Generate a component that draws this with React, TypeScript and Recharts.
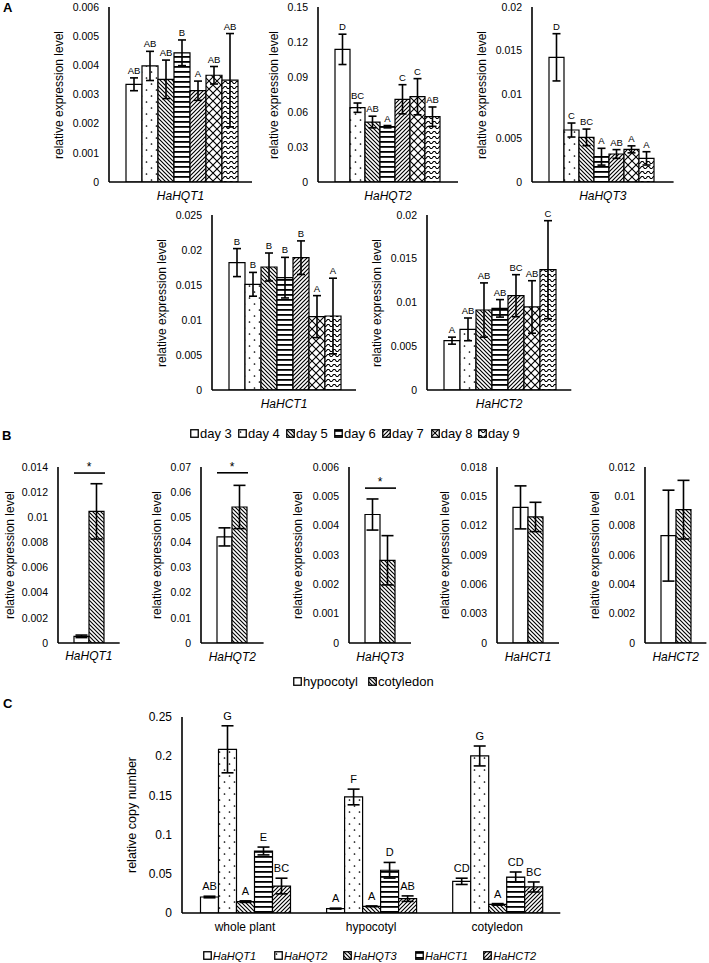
import React from 'react';
import { BarChart, Bar, XAxis, YAxis, ErrorBar, LabelList } from 'recharts';

const FONT = '"Liberation Sans", Arial, Helvetica, sans-serif';

// ---------------- Panel A data ----------------
const dayLabels = ['day 3', 'day 4', 'day 5', 'day 6', 'day 7', 'day 8', 'day 9'];
const dayPatterns = ['pWhite', 'pDots', 'pDiagDown', 'pHoriz', 'pDiagUp', 'pCross', 'pWave'];

const hqt1Mean = [0.00335, 0.00398, 0.00352, 0.00443, 0.00313, 0.00366, 0.00349];
const hqt1Err = [0.00022, 0.0005, 0.00066, 0.00044, 0.00033, 0.0003, 0.0016];
const hqt1Letters = ['AB', 'AB', 'AB', 'B', 'A', 'AB', 'AB'];

const hqt2Mean = [0.1137, 0.0637, 0.0514, 0.0474, 0.0709, 0.0731, 0.056];
const hqt2Err = [0.013, 0.004, 0.005, 0.001, 0.0125, 0.0155, 0.0083];
const hqt2Letters = ['D', 'BC', 'AB', 'A', 'C', 'C', 'AB'];

const hqt3Mean = [0.01425, 0.00594, 0.0051, 0.00289, 0.0032, 0.00373, 0.0027];
const hqt3Err = [0.0027, 0.0008, 0.00095, 0.00096, 0.0005, 0.0004, 0.00076];
const hqt3Letters = ['D', 'C', 'BC', 'A', 'AB', 'A', 'A'];

const hct1Mean = [0.0182, 0.0151, 0.01757, 0.01605, 0.0189, 0.01048, 0.01057];
const hct1Err = [0.002, 0.0017, 0.002, 0.0029, 0.0024, 0.003, 0.0054];
const hct1Letters = ['B', 'B', 'B', 'B', 'B', 'A', 'A'];

const hct2Mean = [0.00564, 0.00693, 0.00914, 0.00933, 0.01078, 0.00949, 0.01375];
const hct2Err = [0.0004, 0.0013, 0.0031, 0.001, 0.0024, 0.003, 0.0056];
const hct2Letters = ['A', 'AB', 'AB', 'AB', 'BC', 'AB', 'C'];

const ticksA1 = [0, 0.001, 0.002, 0.003, 0.004, 0.005, 0.006];
const ticksA2 = [0, 0.03, 0.06, 0.09, 0.12, 0.15];
const ticksA3 = [0, 0.005, 0.01, 0.015, 0.02];
const ticksA4 = [0, 0.005, 0.01, 0.015, 0.02, 0.025];
const ticksA5 = [0, 0.005, 0.01, 0.015, 0.02];

// ---------------- Panel B data ----------------
const tissuesB = ['hypocotyl', 'cotyledon'];
const tissuePatternsB = ['pWhite', 'pDiagDown'];

const bHqt1Mean = [0.00053, 0.01047];
const bHqt1Err = [0.0001, 0.0022];
const bHqt1Sig = 0.01352;
const bHqt2Mean = [0.0422, 0.0541];
const bHqt2Err = [0.0036, 0.0086];
const bHqt2Sig = 0.0677;
const bHqt3Mean = [0.00438, 0.00282];
const bHqt3Err = [0.00053, 0.00084];
const bHqt3Sig = 0.00528;
const bHct1Mean = [0.01387, 0.01289];
const bHct1Err = [0.0022, 0.0015];
const bHct2Mean = [0.00732, 0.00909];
const bHct2Err = [0.0031, 0.002];

const ticksB1 = [0, 0.002, 0.004, 0.006, 0.008, 0.01, 0.012, 0.014];
const ticksB2 = [0, 0.01, 0.02, 0.03, 0.04, 0.05, 0.06, 0.07];
const ticksB3 = [0, 0.001, 0.002, 0.003, 0.004, 0.005, 0.006];
const ticksB4 = [0, 0.003, 0.006, 0.009, 0.012, 0.015, 0.018];
const ticksB5 = [0, 0.002, 0.004, 0.006, 0.008, 0.01, 0.012];

// ---------------- Panel C data ----------------
const tissuesC = ['whole plant', 'hypocotyl', 'cotyledon'];
const genesC = ['HaHQT1', 'HaHQT2', 'HaHQT3', 'HaHCT1', 'HaHCT2'];
const genePatternsC = ['pWhite', 'pDots', 'pDiagDown', 'pHoriz', 'pDiagUp'];

const cHqt1Mean = [0.0204, 0.0056, 0.0404];
const cHqt1Err = [0.001, 0.0006, 0.004];
const cHqt1Letters = ['AB', 'A', 'CD'];
const cHqt2Mean = [0.2088, 0.148, 0.2003];
const cHqt2Err = [0.03, 0.01, 0.0127];
const cHqt2Letters = ['G', 'F', 'G'];
const cHqt3Mean = [0.0145, 0.0085, 0.011];
const cHqt3Err = [0.001, 0.0005, 0.001];
const cHqt3Letters = ['A', 'A', 'A'];
const cHct1Mean = [0.0791, 0.0545, 0.0459];
const cHct1Err = [0.005, 0.01, 0.0064];
const cHct1Letters = ['E', 'D', 'CD'];
const cHct2Mean = [0.0344, 0.0183, 0.0332];
const cHct2Err = [0.01, 0.0035, 0.0064];
const cHct2Letters = ['BC', 'AB', 'BC'];

const ticksC = [0, 0.05, 0.1, 0.15, 0.2, 0.25];

// ---------------- helpers ----------------
type Series = { key: string; errKey: string; letterKey?: string; fill: string };

function oneCategoryRow(name: string, means: number[], errs: number[], letters?: string[], sig?: number) {
  const row: any = { name };
  means.forEach((m, i) => {
    row['v' + i] = m;
    row['e' + i] = errs[i];
    if (letters) row['l' + i] = letters[i];
  });
  if (sig !== undefined) row.sig = sig;
  return row;
}

function makeSeries(patterns: string[], withLetters: boolean): Series[] {
  return patterns.map((p, i) => ({
    key: 'v' + i,
    errKey: 'e' + i,
    letterKey: withLetters ? 'l' + i : undefined,
    fill: p,
  }));
}

const letterRenderer = (data: any[], s: Series, fs: number, lift: number) => (p: any) => {
  const vb = p.viewBox ?? p;
  const idx = p.index ?? 0;
  const d = data[idx];
  if (!d || vb.x === undefined) return null;
  const v = d[s.key];
  const e = d[s.errKey];
  const errPx = v ? (vb.height * e) / v : 0;
  return (
    <text x={vb.x + vb.width / 2} y={vb.y - errPx - lift} textAnchor="middle" fontSize={fs} fill="#000" fontFamily={FONT}>
      {p.value}
    </text>
  );
};

const sigRenderer = (data: any[], s: Series) => (p: any) => {
  const vb = p.viewBox ?? p;
  const idx = p.index ?? 0;
  const d = data[idx];
  if (!d || d.sig === undefined || vb.x === undefined) return null;
  const v = d[s.key];
  const base = vb.y + vb.height;
  const ly = base - (vb.height * d.sig) / v;
  return (
    <g>
      <line x1={vb.x - vb.width} x2={vb.x + vb.width + 1} y1={ly} y2={ly} stroke="#000" strokeWidth={1.6} />
      <text x={vb.x} y={ly - 2} textAnchor="middle" fontSize={12} fill="#000" fontFamily={FONT}>*</text>
    </g>
  );
};

type PanelProps = {
  box: number[];
  data: any[];
  series: Series[];
  max: number;
  ticks: number[];
  gap: number;
  tickFont: number;
  catFont: number;
  catItalic: boolean;
  letterFont?: number;
  letterLift?: number;
  capWidth: number;
  withSig?: boolean;
};

function Panel({ box, data, series, max, ticks, gap, tickFont, catFont, catItalic, letterFont = 9, letterLift = 4, capWidth, withSig }: PanelProps) {
  const [x0, x1, y0, y1] = box;
  const YW = 60;
  const MT = 22;
  const MR = 4;
  const XH = 30;
  const w = x1 - x0 + YW + MR;
  const h = y1 - y0 + MT + XH;
  return (
    <div style={{ position: 'absolute', left: x0 - YW, top: y0 - MT, width: w, height: h }}>
      <BarChart width={w} height={h} data={data} margin={{ top: MT, right: MR, left: 0, bottom: 0 }} barGap={0} barCategoryGap={gap}>
        <XAxis
          dataKey="name"
          height={XH}
          interval={0}
          tickLine={false}
          axisLine={{ stroke: '#000', strokeWidth: 1.6 }}
          tick={{ fill: '#000', fontSize: catFont, fontStyle: catItalic ? 'italic' : 'normal', fontFamily: FONT }}
          tickMargin={3}
        />
        <YAxis
          type="number"
          width={YW}
          domain={[0, max]}
          ticks={ticks}
          interval={0}
          allowDataOverflow
          tickLine={false}
          axisLine={{ stroke: '#000', strokeWidth: 1.6 }}
          tick={{ fill: '#000', fontSize: tickFont, fontFamily: FONT }}
          tickMargin={4}
          tickFormatter={(v: number) => String(v)}
        />
        {series.map((s, i) => (
          <Bar key={s.key} dataKey={s.key} fill={`url(#${s.fill})`} stroke="#000" strokeWidth={1.2} isAnimationActive={false}>
            <ErrorBar dataKey={s.errKey} width={capWidth} stroke="#000" strokeWidth={1.6} direction="y" />
            {s.letterKey ? <LabelList dataKey={s.letterKey} content={letterRenderer(data, s, letterFont, letterLift)} /> : null}
            {withSig && i === series.length - 1 ? <LabelList dataKey="sig" content={sigRenderer(data, s)} /> : null}
          </Bar>
        ))}
      </BarChart>
    </div>
  );
}

function YTitle({ text, cx, cy, fs }: { text: string; cx: number; cy: number; fs: number }) {
  return (
    <div
      style={{
        position: 'absolute',
        left: cx,
        top: cy,
        transform: 'translate(-50%, -50%) rotate(-90deg)',
        whiteSpace: 'nowrap',
        fontSize: fs,
        lineHeight: 1,
        color: '#000',
      }}
    >
      {text}
    </div>
  );
}

function Swatch({ fill }: { fill: string }) {
  return (
    <svg width={9} height={9} style={{ display: 'block' }}>
      <rect x={0.75} y={0.75} width={7.5} height={7.5} fill={`url(#${fill})`} stroke="#000" strokeWidth={1.3} />
    </svg>
  );
}

function LegendRow({ labels, patterns, xs, cy, fs, italic }: { labels: string[]; patterns: string[]; xs: number[]; cy: number; fs: number; italic: boolean }) {
  return (
    <>
      {labels.map((l, i) => (
        <div
          key={l}
          style={{
            position: 'absolute',
            left: xs[i],
            top: cy - 8,
            height: 16,
            display: 'flex',
            alignItems: 'center',
            whiteSpace: 'nowrap',
            fontSize: fs,
            fontStyle: italic ? 'italic' : 'normal',
            color: '#000',
          }}
        >
          <Swatch fill={patterns[i]} />
          <span style={{ marginLeft: 1 }}>{l}</span>
        </div>
      ))}
    </>
  );
}

function PatternDefs() {
  return (
    <svg width={0} height={0} style={{ position: 'absolute', left: 0, top: 0 }}>
      <defs>
        <pattern id="pWhite" width={4} height={4} patternUnits="userSpaceOnUse">
          <rect width={4} height={4} fill="#fff" />
        </pattern>
        <pattern id="pDots" width={10} height={12} patternUnits="userSpaceOnUse">
          <rect width={10} height={12} fill="#fff" />
          <circle cx={2.5} cy={3} r={0.85} fill="#000" />
          <circle cx={7.5} cy={9} r={0.85} fill="#000" />
        </pattern>
        <pattern id="pDiagDown" width={4} height={4} patternUnits="userSpaceOnUse">
          <rect width={4} height={4} fill="#fff" />
          <path d="M-1,-1 L5,5 M3,-1 L5,1 M-1,3 L1,5" stroke="#000" strokeWidth={1.15} />
        </pattern>
        <pattern id="pHoriz" width={4} height={5} patternUnits="userSpaceOnUse">
          <rect width={4} height={5} fill="#fff" />
          <rect y={1} width={4} height={1.8} fill="#000" />
        </pattern>
        <pattern id="pDiagUp" width={4} height={4} patternUnits="userSpaceOnUse">
          <rect width={4} height={4} fill="#fff" />
          <path d="M-1,5 L5,-1 M-1,1 L1,-1 M3,5 L5,3" stroke="#000" strokeWidth={1.15} />
        </pattern>
        <pattern id="pCross" width={8} height={8} patternUnits="userSpaceOnUse">
          <rect width={8} height={8} fill="#fff" />
          <path d="M0,0 L8,8 M8,0 L0,8" stroke="#000" strokeWidth={1.1} />
        </pattern>
        <pattern id="pWave" width={6} height={5} patternUnits="userSpaceOnUse">
          <rect width={6} height={5} fill="#fff" />
          <path d="M0,3.5 L1.5,1.5 L3,1.5 L4.5,3.5 L6,3.5" fill="none" stroke="#000" strokeWidth={1.1} />
        </pattern>
      </defs>
    </svg>
  );
}

// ---------------- chart configs ----------------
const seriesA = makeSeries(dayPatterns, true);
const seriesB = makeSeries(tissuePatternsB, false);
const seriesC = makeSeries(genePatternsC, true);

const panelA = [
  { data: [oneCategoryRow('HaHQT1', hqt1Mean, hqt1Err, hqt1Letters)], max: 0.006, ticks: ticksA1, box: [109, 252, 7, 182], title: [59, 94.5] },
  { data: [oneCategoryRow('HaHQT2', hqt2Mean, hqt2Err, hqt2Letters)], max: 0.15, ticks: ticksA2, box: [318, 458, 7, 182], title: [274, 94.5] },
  { data: [oneCategoryRow('HaHQT3', hqt3Mean, hqt3Err, hqt3Letters)], max: 0.02, ticks: ticksA3, box: [531.7, 673.3, 7, 182], title: [482, 94.5] },
  { data: [oneCategoryRow('HaHCT1', hct1Mean, hct1Err, hct1Letters)], max: 0.025, ticks: ticksA4, box: [211.7, 355.7, 215, 390], title: [162, 302.5] },
  { data: [oneCategoryRow('HaHCT2', hct2Mean, hct2Err, hct2Letters)], max: 0.02, ticks: ticksA5, box: [426.7, 571, 215, 390], title: [377, 302.5] },
];

const panelB = [
  { data: [oneCategoryRow('HaHQT1', bHqt1Mean, bHqt1Err, undefined, bHqt1Sig)], max: 0.014, ticks: ticksB1, box: [58.3, 120, 467.3, 643.3], title: [10, 555.3], sig: true },
  { data: [oneCategoryRow('HaHQT2', bHqt2Mean, bHqt2Err, undefined, bHqt2Sig)], max: 0.07, ticks: ticksB2, box: [201, 263.6, 467.3, 643.3], title: [157, 555.3], sig: true },
  { data: [oneCategoryRow('HaHQT3', bHqt3Mean, bHqt3Err, undefined, bHqt3Sig)], max: 0.006, ticks: ticksB3, box: [349, 411, 467.3, 643.3], title: [297.5, 555.3], sig: true },
  { data: [oneCategoryRow('HaHCT1', bHct1Mean, bHct1Err)], max: 0.018, ticks: ticksB4, box: [497.3, 559.3, 467.3, 643.3], title: [445, 555.3], sig: false },
  { data: [oneCategoryRow('HaHCT2', bHct2Mean, bHct2Err)], max: 0.012, ticks: ticksB5, box: [645, 706.4, 467.3, 643.3], title: [595, 555.3], sig: false },
];

const cMeans = [cHqt1Mean, cHqt2Mean, cHqt3Mean, cHct1Mean, cHct2Mean];
const cErrs = [cHqt1Err, cHqt2Err, cHqt3Err, cHct1Err, cHct2Err];
const cLetters = [cHqt1Letters, cHqt2Letters, cHqt3Letters, cHct1Letters, cHct2Letters];
const dataC = tissuesC.map((t, ti) => {
  const row: any = { name: t };
  genesC.forEach((_, gi) => {
    row['v' + gi] = cMeans[gi][ti];
    row['e' + gi] = cErrs[gi][ti];
    row['l' + gi] = cLetters[gi][ti];
  });
  return row;
});

export default function App() {
  return (
    <div style={{ position: 'absolute', left: 0, top: 0, width: 709, height: 963, background: '#fff', fontFamily: FONT, color: '#000' }}>
      <PatternDefs />

      {/* Panel letters */}
      <div style={{ position: 'absolute', left: 3, top: 0, fontSize: 13, fontWeight: 'bold' }}>A</div>
      <div style={{ position: 'absolute', left: 2, top: 428, fontSize: 13, fontWeight: 'bold' }}>B</div>
      <div style={{ position: 'absolute', left: 3, top: 696, fontSize: 13, fontWeight: 'bold' }}>C</div>

      {/* Panel A */}
      {panelA.map((p, i) => (
        <React.Fragment key={'A' + i}>
          <Panel box={p.box} data={p.data} series={seriesA} max={p.max} ticks={p.ticks} gap={17} tickFont={10.5} catFont={12} catItalic letterFont={9.5} letterLift={4} capWidth={4} />
          <YTitle text="relative expression level" cx={p.title[0]} cy={p.title[1]} fs={12} />
        </React.Fragment>
      ))}
      <LegendRow labels={dayLabels} patterns={dayPatterns} xs={[190, 238, 286, 334, 382, 430.7, 478]} cy={433} fs={13} italic={false} />

      {/* Panel B */}
      {panelB.map((p, i) => (
        <React.Fragment key={'B' + i}>
          <Panel box={p.box} data={p.data} series={seriesB} max={p.max} ticks={p.ticks} gap={16} tickFont={10.5} catFont={12} catItalic capWidth={6} withSig={p.sig} />
          <YTitle text="relative expression level" cx={p.title[0]} cy={p.title[1]} fs={12} />
        </React.Fragment>
      ))}
      <LegendRow labels={tissuesB} patterns={tissuePatternsB} xs={[293, 368]} cy={681.5} fs={13} italic={false} />

      {/* Panel C */}
      <Panel box={[181.7, 560, 716.7, 912.7]} data={dataC} series={seriesC} max={0.25} ticks={ticksC} gap={18.5} tickFont={12} catFont={12} catItalic={false} letterFont={11} letterLift={6} capWidth={6} />
      <YTitle text="relative copy number" cx={131.7} cy={814.7} fs={12.5} />
      <LegendRow labels={genesC} patterns={genePatternsC} xs={[202.7, 274, 343.3, 415, 483.3]} cy={955.5} fs={11} italic />
    </div>
  );
}
